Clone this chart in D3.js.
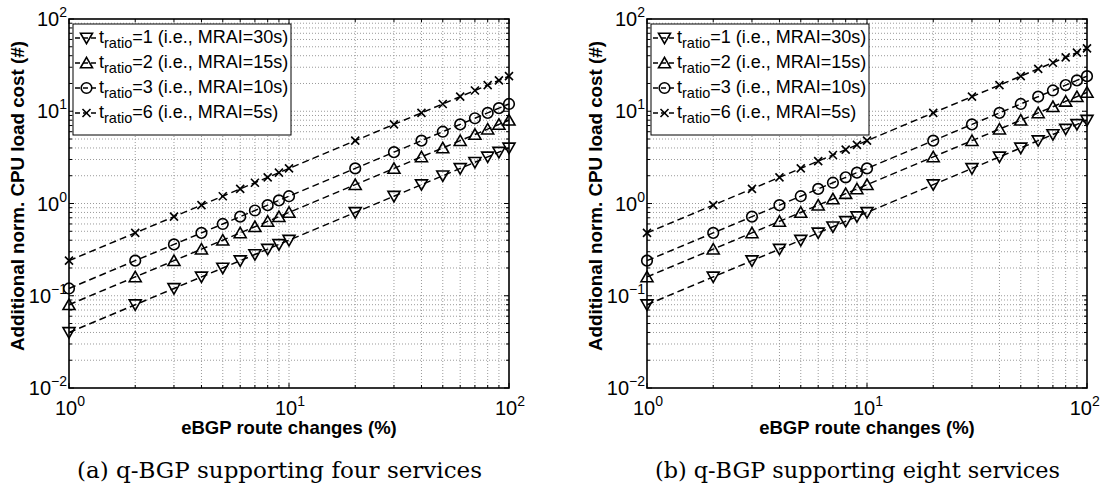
<!DOCTYPE html>
<html>
<head>
	<title>q-BGP CPU load cost</title>
	<meta charset="UTF-8">
	<style>
		body {
			margin: 0;
			background: #fff;
		}

		svg {
			display: block;
			font-family: "Liberation Sans", Arial, Helvetica, sans-serif;
		}

		.grid line {
			stroke: #9a9a9a;
			stroke-width: 1;
			stroke-dasharray: 1,2;
		}

		.tick line {
			stroke: #000;
			stroke-width: 1;
		}

		.series path.line {
			fill: none;
			stroke: #000;
			stroke-width: 1.5;
			stroke-dasharray: 7,4;
		}

		.marker {
			fill: none;
			stroke: #000;
			stroke-width: 1.6;
		}
	</style>
</head>
<body>
</body>
<script src="https://d3js.org/d3.v7.min.js"></script>
<script type="text/javascript">

'use strict';

// eBGP route changes (%)
var changes = [1, 2, 3, 4, 5, 6, 7, 8, 9, 10, 20, 30, 40, 50, 60, 70, 80, 90, 100];

// (a) four services
var fourRatio1 = [0.04, 0.08, 0.12, 0.16, 0.20, 0.24, 0.28, 0.32, 0.36, 0.40, 0.8, 1.2, 1.6, 2.0, 2.4, 2.8, 3.2, 3.6, 4.0];
var fourRatio2 = [0.08, 0.16, 0.24, 0.32, 0.40, 0.48, 0.56, 0.64, 0.72, 0.80, 1.6, 2.4, 3.2, 4.0, 4.8, 5.6, 6.4, 7.2, 8.0];
var fourRatio3 = [0.12, 0.24, 0.36, 0.48, 0.60, 0.72, 0.84, 0.96, 1.08, 1.20, 2.4, 3.6, 4.8, 6.0, 7.2, 8.4, 9.6, 10.8, 12.0];
var fourRatio6 = [0.24, 0.48, 0.72, 0.96, 1.20, 1.44, 1.68, 1.92, 2.16, 2.40, 4.8, 7.2, 9.6, 12.0, 14.4, 16.8, 19.2, 21.6, 24.0];

// (b) eight services
var eightRatio1 = [0.08, 0.16, 0.24, 0.32, 0.40, 0.48, 0.56, 0.64, 0.72, 0.80, 1.6, 2.4, 3.2, 4.0, 4.8, 5.6, 6.4, 7.2, 8.0];
var eightRatio2 = [0.16, 0.32, 0.48, 0.64, 0.80, 0.96, 1.12, 1.28, 1.44, 1.60, 3.2, 4.8, 6.4, 8.0, 9.6, 11.2, 12.8, 14.4, 16.0];
var eightRatio3 = [0.24, 0.48, 0.72, 0.96, 1.20, 1.44, 1.68, 1.92, 2.16, 2.40, 4.8, 7.2, 9.6, 12.0, 14.4, 16.8, 19.2, 21.6, 24.0];
var eightRatio6 = [0.48, 0.96, 1.44, 1.92, 2.40, 2.88, 3.36, 3.84, 4.32, 4.80, 9.6, 14.4, 19.2, 24.0, 28.8, 33.6, 38.4, 43.2, 48.0];

var ratioValues = ["1", "2", "3", "6"];
var legendTails = ["=1 (i.e., MRAI=30s)", "=2 (i.e., MRAI=15s)", "=3 (i.e., MRAI=10s)", "=6 (i.e., MRAI=5s)"];
var markerNames = ["down", "up", "circle", "cross"];

var xTickExponents = [0, 1, 2];
var yTickExponents = [-2, -1, 0, 1, 2];

var xLabel = "eBGP route changes (%)";
var yLabel = "Additional norm. CPU load cost (#)";
var captions = ["(a) q-BGP supporting four services", "(b) q-BGP supporting eight services"];

var panels = [
	{ left: 69, caption: captions[0], series: [fourRatio1, fourRatio2, fourRatio3, fourRatio6] },
	{ left: 647, caption: captions[1], series: [eightRatio1, eightRatio2, eightRatio3, eightRatio6] }
];

var plotWidth = 440, plotTop = 19, plotBottom = 388;

var markerPath = {
	down: "M-6,-4.8L6,-4.8L0,5.6Z",
	up: "M-6,4.8L6,4.8L0,-5.6Z",
	circle: "M5.3,0A5.3,5.3 0 1,1 -5.3,0A5.3,5.3 0 1,1 5.3,0Z",
	cross: "M-4,-4L4,4M-4,4L4,-4"
};

var svg = d3.select("body").append("svg")
	.attr("width", 1101)
	.attr("height", 488);

function superLabel(sel, exp){
	sel.append("tspan").text("10");
	sel.append("tspan")
		.attr("font-size", 14)
		.attr("dy", -9)
		.text(exp < 0 ? "\u2212" + (-exp) : exp);
}

panels.forEach(function(p){
	var x = d3.scaleLog().domain([1, 100]).range([p.left, p.left + plotWidth]);
	var y = d3.scaleLog().domain([0.01, 100]).range([plotBottom, plotTop]);
	var right = p.left + plotWidth;

	var xTicks = x.ticks();
	var yTicks = y.ticks();
	var isMajor = function(v){ return Math.abs(Math.log10(v) - Math.round(Math.log10(v))) < 1e-9; };

	svg.append("rect")
		.attr("x", p.left).attr("y", plotTop)
		.attr("width", plotWidth).attr("height", plotBottom - plotTop)
		.attr("fill", "#fff");

	var grid = svg.append("g").attr("class", "grid");
	grid.selectAll(".gx")
		.data(xTicks.filter(function(v){ return v > 1 && v < 100; }))
		.enter().append("line")
			.attr("x1", function(d){ return x(d); })
			.attr("x2", function(d){ return x(d); })
			.attr("y1", plotTop).attr("y2", plotBottom);
	grid.selectAll(".gy")
		.data(yTicks.filter(function(v){ return v > 0.01 && v < 100; }))
		.enter().append("line")
			.attr("y1", function(d){ return y(d); })
			.attr("y2", function(d){ return y(d); })
			.attr("x1", p.left).attr("x2", right);

	// inward ticks on all four sides
	var ticks = svg.append("g").attr("class", "tick");
	xTicks.forEach(function(v){
		var len = isMajor(v) ? 5 : 3;
		ticks.append("line").attr("x1", x(v)).attr("x2", x(v)).attr("y1", plotBottom).attr("y2", plotBottom - len);
		ticks.append("line").attr("x1", x(v)).attr("x2", x(v)).attr("y1", plotTop).attr("y2", plotTop + len);
	});
	yTicks.forEach(function(v){
		var len = isMajor(v) ? 5 : 3;
		ticks.append("line").attr("y1", y(v)).attr("y2", y(v)).attr("x1", p.left).attr("x2", p.left + len);
		ticks.append("line").attr("y1", y(v)).attr("y2", y(v)).attr("x1", right).attr("x2", right - len);
	});

	// series
	var line = d3.line()
		.x(function(d){ return x(d[0]); })
		.y(function(d){ return y(d[1]); });

	p.series.forEach(function(values, i){
		var pts = changes.map(function(c, j){ return [c, values[j]]; });
		var g = svg.append("g").attr("class", "series");
		g.append("path").attr("class", "line").attr("d", line(pts));
		g.selectAll(".marker")
			.data(pts)
			.enter().append("path")
				.attr("class", "marker")
				.attr("transform", function(d){ return "translate(" + x(d[0]) + "," + y(d[1]) + ")"; })
				.attr("stroke-width", markerNames[i] == "cross" ? 2 : null)
				.attr("d", markerPath[markerNames[i]]);
	});

	// frame
	svg.append("rect")
		.attr("x", p.left).attr("y", plotTop)
		.attr("width", plotWidth).attr("height", plotBottom - plotTop)
		.attr("fill", "none")
		.attr("stroke", "#000")
		.attr("stroke-width", 1.6);

	// tick labels
	xTickExponents.forEach(function(e){
		var t = svg.append("text")
			.attr("x", x(Math.pow(10, e)) + 1)
			.attr("y", 415)
			.attr("text-anchor", "middle")
			.attr("font-size", 20)
			.call(superLabel, e);
		var b = t.node().getBBox();
		if (b.x + b.width > 1100) t.attr("x", +t.attr("x") - (b.x + b.width - 1100));
	});
	yTickExponents.forEach(function(e){
		svg.append("text")
			.attr("x", p.left - 2)
			.attr("y", y(Math.pow(10, e)) + 7)
			.attr("text-anchor", "end")
			.attr("font-size", 20)
			.call(superLabel, e);
	});

	// axis labels
	svg.append("text")
		.attr("x", p.left + plotWidth / 2)
		.attr("y", 434)
		.attr("text-anchor", "middle")
		.attr("font-size", 18.5)
		.attr("font-weight", "bold")
		.text(xLabel);
	svg.append("text")
		.attr("transform", "translate(" + (p.left - 45) + ",196) rotate(-90)")
		.attr("text-anchor", "middle")
		.attr("font-size", 18.8)
		.attr("font-weight", "bold")
		.text(yLabel);

	// legend
	var lx = p.left + 4, ly = 24;
	var legend = svg.append("g");
	legend.append("rect")
		.attr("x", lx).attr("y", ly)
		.attr("width", 218).attr("height", 111)
		.attr("fill", "#fff")
		.attr("stroke", "#000")
		.attr("stroke-width", 1);
	ratioValues.forEach(function(r, i){
		var cy = ly + 14 + i * 25;
		legend.append("line")
			.attr("x1", lx + 2).attr("x2", lx + 25)
			.attr("y1", cy).attr("y2", cy)
			.attr("stroke", "#000")
			.attr("stroke-width", 1.5)
			.attr("stroke-dasharray", "5,3");
		legend.append("path")
			.attr("class", "marker")
			.attr("transform", "translate(" + (lx + 13.5) + "," + cy + ")")
			.attr("stroke-width", markerNames[i] == "cross" ? 2 : null)
			.attr("d", markerPath[markerNames[i]]);
		var t = legend.append("text")
			.attr("x", lx + 26)
			.attr("y", cy + 5)
			.attr("font-size", 18);
		t.append("tspan").text("t");
		t.append("tspan").attr("font-size", 14.5).attr("dy", 5).text("ratio");
		t.append("tspan").attr("dy", -5).text(legendTails[i]);
	});

	// caption
	svg.append("text")
		.attr("x", p.left + 210.5)
		.attr("y", 478)
		.attr("text-anchor", "middle")
		.attr("font-family", "'DejaVu Serif', 'Liberation Serif', serif")
		.attr("font-size", 22)
		.attr("textLength", 405)
		.attr("lengthAdjust", "spacingAndGlyphs")
		.text(p.caption);
});

</script>
</html>
